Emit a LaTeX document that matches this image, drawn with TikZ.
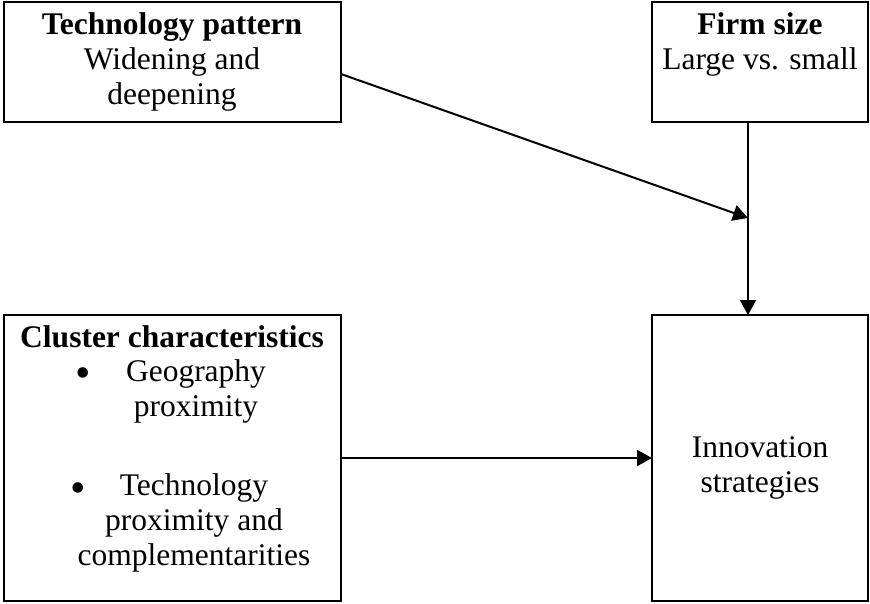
\documentclass[tikz,border=0pt]{standalone}
\usepackage{fontspec}
\setmainfont{Liberation Serif}
\usetikzlibrary{arrows.meta}
\begin{document}
\begin{tikzpicture}[x=1pt,y=-1pt,
  box/.style={draw, line width=2pt, inner sep=0pt, outer sep=0pt},
  lbl/.style={font=\fontsize{31.5}{35}\selectfont, inner sep=0pt, align=center, anchor=base},
  dot/.style={font=\fontsize{44}{44}\selectfont, inner sep=0pt, anchor=base},
  arr/.style={line width=2pt, -{Triangle[length=15pt,width=16pt]}}]
\useasboundingbox (0,0) rectangle (870,603);

% boxes
\node[box, minimum width=337pt, minimum height=120pt] (tech) at (172.5,62) {};
\node[box, minimum width=216pt, minimum height=120pt] (firm) at (760,62) {};
\node[box, minimum width=337pt, minimum height=286pt] (cluster) at (172.5,458) {};
\node[box, minimum width=216pt, minimum height=286pt] (innov) at (760,458) {};

% texts (a multi-line node sits on the baseline of its last line)
\node[lbl] (techtxt) at (172,104) {\textbf{Technology pattern}\\Widening and\\deepening};
\node[lbl] (firmtxt) at (760,69) {\textbf{Firm size}\\Large vs. small};
\node[lbl] (clutitle) at (172,347) {\textbf{Cluster characteristics}};
\node[dot] (bulA) at (83,387) {\textbullet};
\node[lbl] (geo) at (196,416) {Geography\\proximity};
\node[dot] (bulB) at (78,502) {\textbullet};
\node[lbl] (techprox) at (194,565) {Technology\\proximity and\\complementarities};
\node[lbl] (innovtxt) at (760,492) {Innovation\\strategies};

% connectors
\coordinate (meet) at (748,218);
\draw[arr] ([yshift=-12pt]tech.east) -- (meet);
\draw[arr] (firm.south -| meet) -- (innov.north -| meet);
\draw[arr] (cluster.east) -- (innov.west);
\end{tikzpicture}
\end{document}
